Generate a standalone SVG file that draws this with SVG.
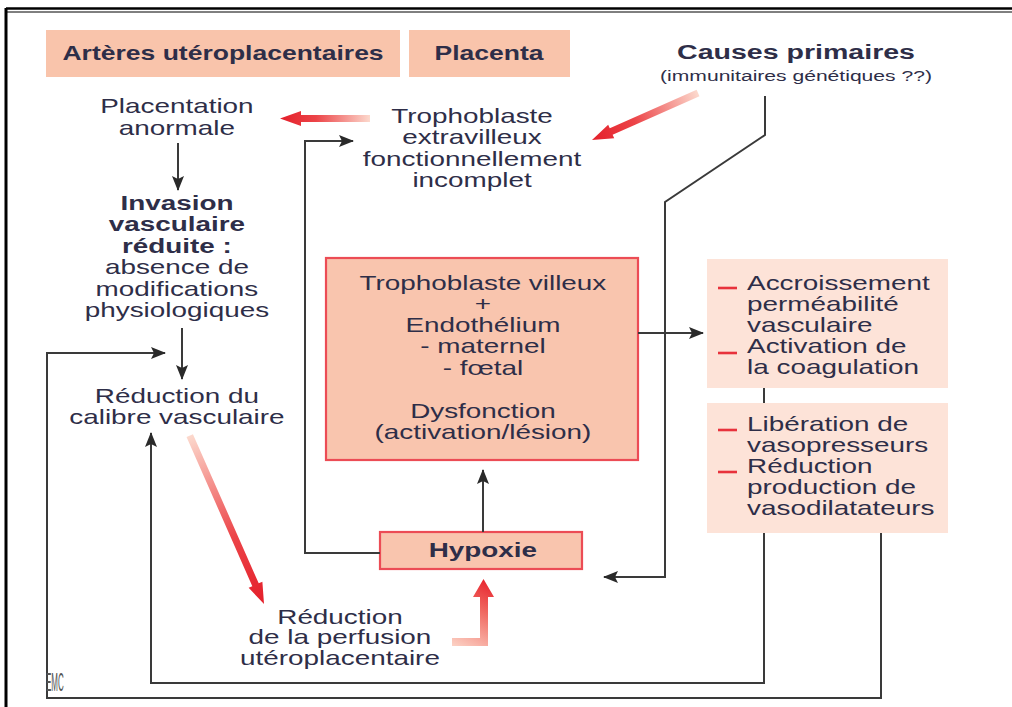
<svg xmlns="http://www.w3.org/2000/svg" width="1012" height="707" viewBox="0 0 1012 707">
<style>
.t{font-family:"Liberation Sans",Arial,sans-serif;font-size:20.5px;fill:#2e2e48;text-anchor:middle}
.b{font-weight:bold}
.l{text-anchor:start}
.hdr{fill:#f9c4ab}
.box{fill:#f9c5ae;stroke:#ec4c55;stroke-width:2.2}
.pale{fill:#fde3d8}
.c{fill:none;stroke:#3a3a3a;stroke-width:2}
.dash{stroke:#e8323c;stroke-width:2.6}
</style>
<defs>
<marker id="ah" markerUnits="userSpaceOnUse" markerWidth="15" markerHeight="12" refX="14" refY="6" orient="auto">
<path d="M0,0 L15,6 L0,12 L3,6 z" fill="#2a2a2a"/>
</marker>
<linearGradient id="gr" x1="0" y1="0" x2="1" y2="0">
<stop offset="0" stop-color="#e41f2a"/>
<stop offset="0.4" stop-color="#ec4448"/>
<stop offset="1" stop-color="#fcd9cd"/>
</linearGradient>
<linearGradient id="gd" gradientUnits="userSpaceOnUse" x1="452" y1="646" x2="486" y2="580">
<stop offset="0" stop-color="#fcd3c6"/>
<stop offset="0.6" stop-color="#f06a62"/>
<stop offset="1" stop-color="#e8262f"/>
</linearGradient>
</defs>

<g id="frame">
<line x1="6" y1="8.5" x2="1012" y2="8.5" stroke="#000" stroke-width="2.5"/>
<line x1="6" y1="12" x2="1012" y2="12" stroke="#000" stroke-width="1"/>
<line x1="6" y1="8" x2="6" y2="707" stroke="#000" stroke-width="3"/>
</g>

<g id="headers">
<rect class="hdr" x="46" y="30" width="354" height="47"/>
<rect class="hdr" x="409" y="30" width="161" height="47"/>
<g transform="scale(1.36,1)">
<text class="t b" style="font-size:19.5px" x="164" y="60">Artères utéroplacentaires</text>
<text class="t b" style="font-size:19.5px" x="359.6" y="60">Placenta</text>
</g>
</g>

<g id="causes">
<g transform="scale(1.36,1)">
<text class="t b" style="font-size:21px" x="585.3" y="59">Causes primaires</text>
<text class="t" style="font-size:15.5px" x="585.3" y="81">(immunitaires génétiques ??)</text>
</g>
</g>

<g id="placentation">
<g transform="scale(1.36,1)">
<text class="t" x="130.1" y="113">Placentation</text>
<text class="t" x="130.1" y="135">anormale</text>
</g>
</g>

<g id="invasion">
<g transform="scale(1.36,1)">
<text class="t b" x="130.1" y="210">Invasion</text>
<text class="t b" x="130.1" y="231.5">vasculaire</text>
<text class="t b" x="130.1" y="253">réduite :</text>
<text class="t" x="130.1" y="274.5">absence de</text>
<text class="t" x="130.1" y="296">modifications</text>
<text class="t" x="130.1" y="317.5">physiologiques</text>
</g>
</g>

<g id="reduction-calibre">
<g transform="scale(1.36,1)">
<text class="t" x="130.1" y="403">Réduction du</text>
<text class="t" x="130.1" y="424">calibre vasculaire</text>
</g>
</g>

<g id="extravilleux">
<g transform="scale(1.36,1)">
<text class="t" x="347.1" y="123">Trophoblaste</text>
<text class="t" x="347.1" y="144.5">extravilleux</text>
<text class="t" x="347.1" y="166">fonctionnellement</text>
<text class="t" x="347.1" y="187">incomplet</text>
</g>
</g>

<g id="villeux">
<rect class="box" x="326" y="258" width="312" height="202"/>
<g transform="scale(1.36,1)">
<text class="t" x="355.1" y="290">Trophoblaste villeux</text>
<text class="t" x="355.1" y="311">+</text>
<text class="t" x="355.1" y="332">Endothélium</text>
<text class="t" x="355.1" y="353.5">- maternel</text>
<text class="t" x="355.1" y="375">- fœtal</text>
<text class="t" x="355.1" y="418">Dysfonction</text>
<text class="t" x="355.1" y="439">(activation/lésion)</text>
</g>
</g>

<g id="hypoxie">
<rect class="box" x="380" y="532" width="202" height="37"/>
<g transform="scale(1.36,1)">
<text class="t b" x="355.1" y="557">Hypoxie</text>
</g>
</g>

<g id="perfusion">
<g transform="scale(1.36,1)">
<text class="t" x="250" y="624">Réduction</text>
<text class="t" x="250" y="644.5">de la perfusion</text>
<text class="t" x="250" y="665">utéroplacentaire</text>
</g>
</g>

<g id="effets1">
<rect class="pale" x="707" y="259" width="241" height="129"/>
<line class="dash" x1="718" y1="288" x2="737" y2="288"/>
<line class="dash" x1="718" y1="353" x2="737" y2="353"/>
<g transform="scale(1.36,1)">
<text class="t l" x="549.3" y="290">Accroissement</text>
<text class="t l" x="549.3" y="311">perméabilité</text>
<text class="t l" x="549.3" y="332">vasculaire</text>
<text class="t l" x="549.3" y="353">Activation de</text>
<text class="t l" x="549.3" y="374">la coagulation</text>
</g>
</g>

<g id="effets2">
<rect class="pale" x="707" y="403" width="241" height="130"/>
<line class="dash" x1="718" y1="430" x2="737" y2="430"/>
<line class="dash" x1="718" y1="472" x2="737" y2="472"/>
<g transform="scale(1.36,1)">
<text class="t l" x="549.3" y="431">Libération de</text>
<text class="t l" x="549.3" y="452">vasopresseurs</text>
<text class="t l" x="549.3" y="473">Réduction</text>
<text class="t l" x="549.3" y="494">production de</text>
<text class="t l" x="549.3" y="515">vasodilatateurs</text>
</g>
</g>

<g id="connectors">
<line class="c" x1="178" y1="143" x2="178" y2="190" marker-end="url(#ah)"/>
<line class="c" x1="182" y1="328" x2="182" y2="379" marker-end="url(#ah)"/>
<polyline class="c" points="881,533 881,698 47,698 47,353 165,353" marker-end="url(#ah)"/>
<polyline class="c" points="764,533 764,683 151,683 151,433" marker-end="url(#ah)"/>
<line class="c" x1="764" y1="388" x2="764" y2="403"/>
<polyline class="c" points="765,96 765,135 665,202 665,577 604,577" marker-end="url(#ah)"/>
<polyline class="c" points="380,553 305,553 305,141 353,141" marker-end="url(#ah)"/>
<line class="c" x1="483" y1="532" x2="483" y2="470" marker-end="url(#ah)"/>
<line class="c" x1="638" y1="333" x2="703" y2="333" marker-end="url(#ah)"/>
<polygon fill="url(#gr)" transform="translate(280,118.5)" points="0,0 21,-7.5 21,-3.5 90,-3.5 90,3.5 21,3.5 21,7.5"/>
<polygon fill="url(#gr)" transform="translate(592,140) rotate(-23.9)" points="0,0 21,-7.5 21,-3.5 116,-3.5 116,3.5 21,3.5 21,7.5"/>
<polygon fill="url(#gr)" transform="translate(264,604) rotate(-113.8)" points="0,0 21,-7.5 21,-3.5 184,-3.5 184,3.5 21,3.5 21,7.5"/>
<polygon fill="url(#gd)" points="452,638 480,638 480,597 473,597 483.5,579 494,597 488,597 488,646 452,646"/>
</g>

<g id="logo">
<text transform="translate(46,691) scale(0.32,1)" font-family="Liberation Sans,sans-serif" font-size="25" fill="#555">EMC</text>
</g>
</svg>
